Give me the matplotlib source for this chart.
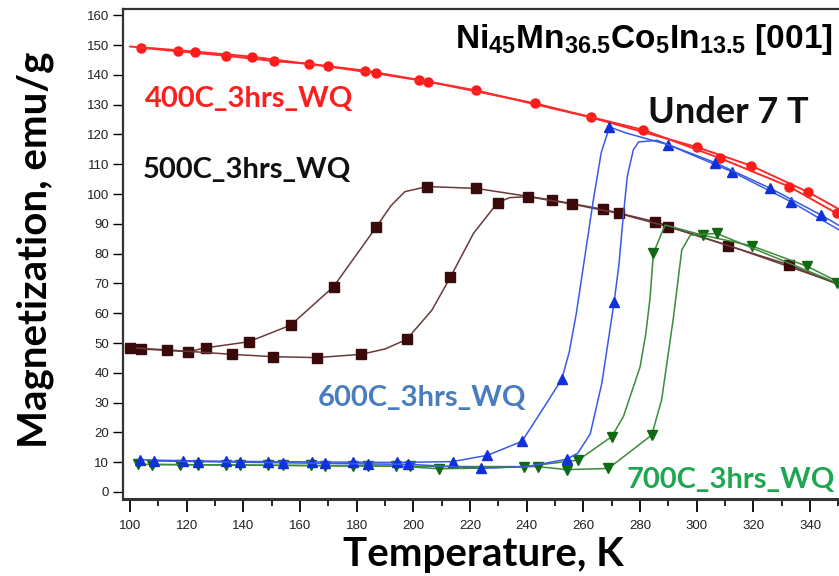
import numpy as np
import matplotlib
matplotlib.use("Agg")
import matplotlib.pyplot as plt
from matplotlib.ticker import MultipleLocator

plt.rcParams['mathtext.fontset'] = 'custom'
plt.rcParams['mathtext.bf'] = 'Liberation Sans:bold'
plt.rcParams['mathtext.rm'] = 'Liberation Sans:bold'

# M(T) curves under 7 T, two branches (cooling / heating) per anneal
# 400C_3hrs_WQ
red_a_T = [103.8, 117, 133.9, 150.8, 163.2, 182.9, 202, 222, 262.7, 300.2, 319.2, 339.4, 351]
red_a_M = [149.1, 147.9, 146.4, 144.6, 143.7, 141.4, 138.3, 134.8, 125.7, 115.7, 109.5, 100.6, 94.5]
red_a_mk = list(range(12))
red_b_T = [100, 123, 143, 169.8, 186.8, 205.3, 243, 281.2, 308.3, 332.6, 349.4, 351]
red_b_M = [149.5, 147.8, 146.1, 142.8, 140.5, 137.7, 130.4, 121.5, 112, 102.5, 93.5, 92.8]
red_b_mk = list(range(1, 11))

# 500C_3hrs_WQ
brn_a_T = [103.8, 120.6, 126.8, 141.8, 156.7, 171.8, 186.8, 192, 197, 204.9, 222, 248.8, 266.8, 285.3, 311.2, 351]
brn_a_M = [48.0, 47.1, 48.4, 50.4, 56.0, 68.9, 88.8, 96.0, 100.8, 102.5, 101.9, 98.0, 94.9, 90.7, 82.7, 69.5]
brn_a_mk = [0, 1, 2, 3, 4, 5, 6, 9, 10, 11, 12, 13, 14]
brn_b_T = [100, 113, 135.9, 150.6, 165.9, 181.5, 190, 197.6, 206.5, 213, 221.2, 229.7, 234, 240.6, 256.1, 272.4, 290, 332.7, 351]
brn_b_M = [48.4, 47.7, 46.2, 45.4, 45.1, 46.2, 48.0, 51.2, 61.0, 72.0, 86.8, 97.1, 98.8, 99.1, 96.6, 93.5, 89.0, 76.2, 69.2]
brn_b_mk = [0, 1, 2, 3, 4, 5, 7, 9, 11, 13, 14, 15, 16, 17]

# 600C_3hrs_WQ
blu_a_T = [103.5, 118.6, 133.9, 148.8, 164.1, 178.8, 194.1, 213.8, 226.1, 238.3, 247, 252.4, 255,
           257.5, 260.5, 263.5, 266.3, 269.2, 275, 290, 312.4, 333.3, 351]
blu_a_M = [10.8, 10.5, 10.3, 10.2, 10.1, 10.0, 9.9, 10.2, 12.3, 17.0, 29.8, 38.0, 47.0,
           60.0, 79.0, 98.0, 114.0, 122.5, 120.5, 116.5, 107.5, 97.4, 87.5]
blu_a_mk = [0, 1, 2, 3, 4, 5, 6, 7, 8, 9, 11, 17, 19, 20, 21]
blu_b_T = [108.5, 123.8, 138.8, 153.9, 168.8, 183.9, 198, 223.9, 240, 254.1, 258, 262.4, 266.5,
           270.8, 272.5, 274, 275.5, 277.6, 279.5, 286, 306.6, 326, 344, 351]
blu_b_M = [10.4, 10.2, 10.0, 9.8, 9.6, 9.4, 9.3, 8.0, 8.5, 11.0, 13.0, 19.5, 36.5,
           63.6, 76.0, 92.0, 106.0, 114.8, 117.5, 118.0, 110.5, 101.9, 92.9, 89.0]
blu_b_mk = [0, 1, 2, 3, 4, 5, 6, 7, 9, 13, 20, 21, 22]

# 700C_3hrs_WQ
grn_a_T = [102.9, 117.6, 133.9, 148.8, 164.0, 178.8, 193.9, 209, 224, 239.2, 258.2, 270, 274.1,
           280, 282, 283.5, 284.7, 288.8, 302.1, 319.4, 338.8, 351]
grn_a_M = [9.3, 9.2, 9.1, 9.0, 8.9, 8.8, 8.7, 7.8, 8.0, 8.5, 10.7, 18.6, 25.3,
           42.0, 53.0, 65.0, 80.1, 89.6, 86.2, 82.6, 75.8, 70.0]
grn_a_mk = [0, 1, 2, 3, 4, 5, 6, 7, 9, 10, 11, 16, 18, 19, 20]
grn_b_T = [107.7, 123.8, 138.8, 153.9, 168.8, 183.9, 198.8, 244.1, 254.1, 268.8, 284.1, 287.6,
           291.8, 294.7, 297.7, 307, 349.4]
grn_b_M = [9.2, 9.1, 9.0, 8.9, 8.8, 8.7, 8.6, 8.5, 7.5, 7.9, 19.1, 30.9,
           58.8, 81.2, 86.2, 86.8, 70.2]
grn_b_mk = [0, 1, 2, 3, 4, 5, 6, 7, 8, 9, 10, 15, 16]

fig = plt.figure(figsize=(8.39, 5.76), dpi=100)
ax = fig.add_axes([0.1466, 0.1337, 0.8534, 0.8507])


def curve(T, M, mk, line_c, mark_c, marker, ms, lw=1.1):
    ax.plot(T, M, '-', color=line_c, lw=lw, marker=marker, ms=ms, markevery=mk,
            mfc=mark_c, mec=mark_c)


curve(red_a_T, red_a_M, red_a_mk, '#ff2a2a', '#ff1a1a', 'o', 6.5, 1.4)
curve(red_b_T, red_b_M, red_b_mk, '#ff2a2a', '#ff1a1a', 'o', 6.5, 1.4)
curve(brn_a_T, brn_a_M, brn_a_mk, '#6a3a3a', '#3a0a0a', 's', 6.5)
curve(brn_b_T, brn_b_M, brn_b_mk, '#6a3a3a', '#3a0a0a', 's', 6.5)
curve(grn_a_T, grn_a_M, grn_a_mk, '#3c8a3c', '#0f6a12', 'v', 7)
curve(grn_b_T, grn_b_M, grn_b_mk, '#3c8a3c', '#0f6a12', 'v', 7)
curve(blu_a_T, blu_a_M, blu_a_mk, '#3a5ae6', '#1030d8', '^', 7)
curve(blu_b_T, blu_b_M, blu_b_mk, '#3a5ae6', '#1030d8', '^', 7)

ax.set_xlim(97.5, 350.2)
ax.set_ylim(-2.35, 162.1)
ax.xaxis.set_major_locator(MultipleLocator(20))
ax.xaxis.set_minor_locator(MultipleLocator(10))
ax.yaxis.set_major_locator(MultipleLocator(10))
ax.tick_params(axis='x', which='major', direction='out', length=9, width=1.3, labelsize=9.5, pad=6)
ax.tick_params(axis='x', which='minor', direction='out', length=5, width=1.2)
ax.tick_params(axis='y', direction='out', length=7, width=1.0, labelsize=9.5, pad=3)
for lab in ax.get_xticklabels() + ax.get_yticklabels():
    lab.set_family('Liberation Sans')
    lab.set_color('#222222')

ax.spines['right'].set_visible(False)
ax.spines['bottom'].set_linewidth(2.2)
ax.spines['left'].set_linewidth(1.6)
ax.spines['top'].set_linewidth(1.6)
for s in ax.spines.values():
    s.set_color('#333333')

lab_font = 'Lato'
ax.set_xlabel('Temperature, K', family=lab_font, weight='bold', fontsize=29, va='center')
ax.xaxis.set_label_coords(0.504, -0.114)
ax.set_ylabel('Magnetization, emu/g', family=lab_font, weight='bold', fontsize=29, va='center')
ax.yaxis.set_label_coords(-0.123, 0.508)

ax.text(105.3, 131.9, '400C_3hrs_WQ', color='#ff1e1e', family=lab_font, weight='bold',
        fontsize=21, va='center')
ax.text(104.6, 108, '500C_3hrs_WQ', color='#111111', family=lab_font, weight='bold',
        fontsize=21, va='center')
ax.text(166.4, 31.5, '600C_3hrs_WQ', color='#4a7cc0', family=lab_font, weight='bold',
        fontsize=21, va='center')
ax.text(275.4, 4, '700C_3hrs_WQ', color='#1fa651', family=lab_font, weight='bold',
        fontsize=21, va='center')
ax.text(282.8, 127.5, 'Under 7 T', color='#111111', family=lab_font, weight='bold',
        fontsize=26, va='center')
ax.text(348.1, 151.7, r'$\mathbf{Ni_{45}Mn_{36.5}Co_{5}In_{13.5}}$ [001]', color='#000000',
        family='Liberation Sans', weight='bold', fontsize=24, ha='right', va='center')

fig.savefig('out.png', dpi=100)
